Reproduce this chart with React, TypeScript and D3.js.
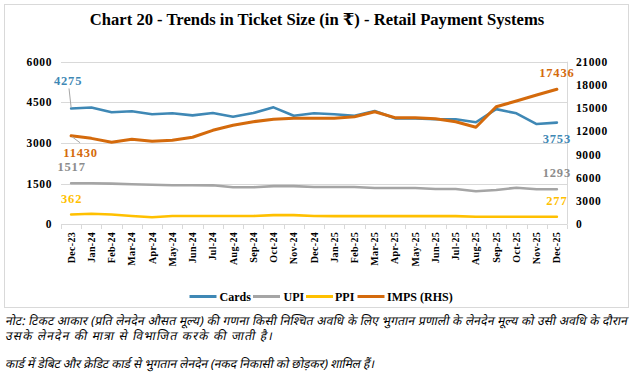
import React from "react";
import * as d3 from "d3";

const categories = [
  "Dec-23", "Jan-24", "Feb-24", "Mar-24", "Apr-24", "May-24", "Jun-24", "Jul-24",
  "Aug-24", "Sep-24", "Oct-24", "Nov-24", "Dec-24", "Jan-25", "Feb-25", "Mar-25",
  "Apr-25", "May-25", "Jun-25", "Jul-25", "Aug-25", "Sep-25", "Oct-25", "Nov-25", "Dec-25",
];
const cards = [4275, 4310, 4135, 4170, 4060, 4095, 4020, 4105, 3970, 4105, 4315, 4005, 4095, 4060, 4005, 4180, 3910, 3910, 3875, 3875, 3765, 4250, 4095, 3700, 3753];
const upi = [1517, 1515, 1500, 1478, 1462, 1440, 1440, 1438, 1368, 1368, 1410, 1410, 1375, 1375, 1375, 1340, 1340, 1338, 1305, 1305, 1220, 1265, 1350, 1292, 1293];
const ppi = [362, 391, 360, 308, 262, 305, 305, 305, 305, 305, 340, 340, 305, 300, 300, 300, 300, 300, 300, 300, 277, 277, 277, 277, 277];
const imps = [11430, 11100, 10590, 10980, 10720, 10850, 11240, 12140, 12790, 13250, 13580, 13700, 13700, 13700, 13900, 14540, 13770, 13770, 13640, 13250, 12530, 15190, 15920, 16700, 17436];

const leftTicks = [0, 1500, 3000, 4500, 6000];
const rightTicks = [0, 3000, 6000, 9000, 12000, 15000, 18000, 21000];

const title = "Chart 20 - Trends in Ticket Size (in ₹) - Retail Payment Systems";
const noteLines = [
  "नोट: टिकट आकार (प्रति लेनदेन औसत मूल्य) की गणना किसी निश्चित अवधि के लिए भुगतान प्रणाली के लेनदेन मूल्य को उसी अवधि के दौरान",
  "उसके लेनदेन की मात्रा से विभाजित करके की जाती है।",
  "कार्ड में डेबिट और क्रेडिट कार्ड से भुगतान लेनदेन (नकद निकासी को छोड़कर) शामिल हैं।",
];

const C = {
  cards: "#3F88B5",
  upi: "#A5A5A5",
  ppi: "#FFC000",
  imps: "#D46A0C",
  grid: "#D9D9D9",
  text: "#000000",
};

const FONT = "'Liberation Serif', 'DejaVu Serif', serif";

export default function App() {
  const W = 635, H = 377;
  const plotL = 61, plotR = 567, plotT = 61.7, plotB = 224.3;

  const x = d3.scaleBand<string>().domain(categories).range([plotL, plotR]);
  const cx = (i: number) => (x(categories[i]) as number) + x.bandwidth() / 2;
  const yL = d3.scaleLinear().domain([0, 6000]).range([plotB, plotT]);
  const yR = d3.scaleLinear().domain([0, 21000]).range([plotB, plotT]);

  const lineL = d3.line<number>().x((_, i) => cx(i)).y((d) => yL(d));
  const lineR = d3.line<number>().x((_, i) => cx(i)).y((d) => yR(d));

  const series = [
    { name: "Cards", data: cards, color: C.cards, line: lineL, w: 2.6 },
    { name: "UPI", data: upi, color: C.upi, line: lineL, w: 2.6 },
    { name: "PPI", data: ppi, color: C.ppi, line: lineL, w: 2.6 },
    { name: "IMPS (RHS)", data: imps, color: C.imps, line: lineR, w: 3 },
  ];
  const last = categories.length - 1;

  const legendItems = [
    { name: "Cards", color: C.cards, x: 189.5, tx: 219.5 },
    { name: "UPI", color: C.upi, x: 253, tx: 283.5 },
    { name: "PPI", color: C.ppi, x: 306, tx: 335 },
    { name: "IMPS (RHS)", color: C.imps, x: 357.5, tx: 387 },
  ];

  const labelStyle = { fontFamily: FONT, fontWeight: 700, fontSize: 12.5, letterSpacing: 0.8 } as const;
  const noteY = [325, 340, 368];
  const noteLen = [622, 267, 369];

  return (
    <svg width={W} height={H} style={{ position: "absolute", left: 0, top: 0, background: "#fff" }}>
      <rect x={0} y={0} width={W} height={H} fill="#fff" />
      <rect x={4.5} y={4.5} width={624} height={303} fill="#fff" stroke={C.grid} strokeWidth={1} />
      <text x={317} y={25} textAnchor="middle" fontFamily={FONT} fontWeight={700} fontSize={16.6} fill="#000">
        {title}
      </text>

      {leftTicks.slice(1).map((t) => (
        <line key={t} x1={plotL} x2={plotR} y1={Math.round(yL(t)) + 0.5} y2={Math.round(yL(t)) + 0.5} stroke={C.grid} strokeWidth={1} />
      ))}
      <line x1={plotL} x2={plotR} y1={224.5} y2={224.5} stroke={C.grid} strokeWidth={1} />
      <line x1={plotR + 0.5} x2={plotR + 0.5} y1={plotT} y2={plotB} stroke={C.grid} strokeWidth={1} />
      {d3.range(categories.length + 1).map((i) => {
        const xx = Math.round(plotL + i * x.step()) + 0.5;
        return <line key={i} x1={xx} x2={xx} y1={224.5} y2={229} stroke={C.grid} strokeWidth={1} />;
      })}

      {leftTicks.map((t) => (
        <text key={t} x={52} y={yL(t)} dy="0.35em" textAnchor="end" fontFamily={FONT} fontWeight={700} fontSize={11.5} letterSpacing={0.6} fill="#000">
          {t}
        </text>
      ))}
      {rightTicks.map((t) => (
        <text key={t} x={576} y={yR(t)} dy="0.35em" textAnchor="start" fontFamily={FONT} fontWeight={700} fontSize={11.5} letterSpacing={0.6} fill="#000">
          {t}
        </text>
      ))}
      {categories.map((c, i) => (
        <text key={c} transform={`translate(${cx(i) + 3.5},232) rotate(-90)`} textAnchor="end" fontFamily={FONT} fontWeight={700} fontSize={10} letterSpacing={0.3} fill="#000">
          {c}
        </text>
      ))}

      {series.map((s) => (
        <path key={s.name} d={s.line(s.data) as string} fill="none" stroke={s.color} strokeWidth={s.w} strokeLinejoin="round" strokeLinecap="round" />
      ))}

      <line x1={69} y1={yL(cards[0]) - 20} x2={cx(0)} y2={yL(cards[0]) - 1} stroke="#A6A6A6" strokeWidth={1} />
      <line x1={cx(0) + 1} y1={yR(imps[0]) + 1} x2={cx(0) + 9} y2={yR(imps[0]) + 7} stroke="#A6A6A6" strokeWidth={1} />

      <text x={cx(0) - 3} y={yL(cards[0]) - 23.5} textAnchor="middle" fill={C.cards} {...labelStyle}>{cards[0]}</text>
      <text x={cx(0) + 9.5} y={yR(imps[0]) + 21} textAnchor="middle" fill={C.imps} {...labelStyle}>{imps[0]}</text>
      <text x={cx(0) + 0.5} y={yL(upi[0]) - 12} textAnchor="middle" fill="#8C8C8C" {...labelStyle}>{upi[0]}</text>
      <text x={cx(0) + 0.5} y={yL(ppi[0]) - 11.5} textAnchor="middle" fill={C.ppi} {...labelStyle}>{ppi[0]}</text>

      <text x={cx(last)} y={yR(imps[last]) - 12.6} textAnchor="middle" fill={C.imps} {...labelStyle}>{imps[last]}</text>
      <text x={cx(last)} y={yL(cards[last]) + 20.7} textAnchor="middle" fill={C.cards} {...labelStyle}>{cards[last]}</text>
      <text x={cx(last)} y={yL(upi[last]) - 12.6} textAnchor="middle" fill="#8C8C8C" {...labelStyle}>{upi[last]}</text>
      <text x={cx(last)} y={yL(ppi[last]) - 12} textAnchor="middle" fill={C.ppi} {...labelStyle}>{ppi[last]}</text>

      {legendItems.map((l) => (
        <g key={l.name}>
          <line x1={l.x} x2={l.x + 27} y1={296.5} y2={296.5} stroke={l.color} strokeWidth={3} />
          <text x={l.tx} y={296.5} dy="0.35em" fontFamily={FONT} fontWeight={700} fontSize={12} fill="#000">{l.name}</text>
        </g>
      ))}

      {noteLines.map((t, i) => (
        <text key={i} transform={`translate(5,${noteY[i]}) skewX(-12)`} textLength={noteLen[i]} lengthAdjust="spacing" fontFamily="'Noto Sans', 'DejaVu Sans', sans-serif" fontSize={12.2} fill="#000">
          {t}
        </text>
      ))}
    </svg>
  );
}
